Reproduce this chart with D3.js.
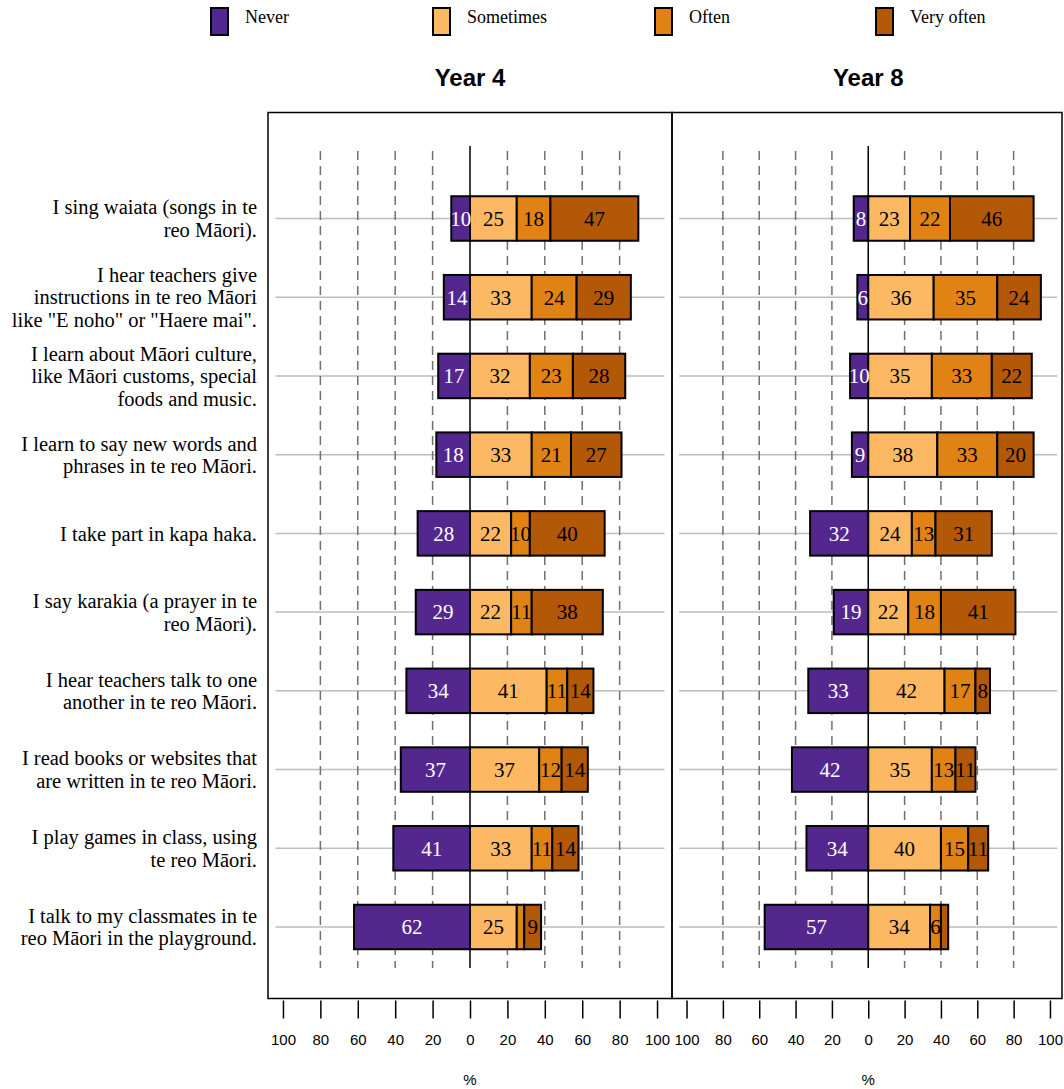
<!DOCTYPE html>
<html>
<head>
<meta charset="utf-8">
<script src="https://cdn.jsdelivr.net/npm/d3@7"></script>
<style>
  html, body { margin: 0; padding: 0; background: #fff; }
  svg { display: block; }
</style>
</head>
<body>
<svg id="chart" width="1064" height="1089"></svg>
<script>
// ---------------- DATA ----------------
const statements = [
  ["I sing waiata (songs in te", "reo Māori)."],
  ["I hear teachers give", "instructions in te reo Māori", "like \"E noho\" or \"Haere mai\"."],
  ["I learn about Māori culture,", "like Māori customs, special", "foods and music."],
  ["I learn to say new words and", "phrases in te reo Māori."],
  ["I take part in kapa haka."],
  ["I say karakia (a prayer in te", "reo Māori)."],
  ["I hear teachers talk to one", "another in te reo Māori."],
  ["I read books or websites that", "are written in te reo Māori."],
  ["I play games in class, using", "te reo Māori."],
  ["I talk to my classmates in te", "reo Māori in the playground."]
];
const responses = ["Never", "Sometimes", "Often", "Very often"];
const panels = ["Year 4", "Year 8"];

const year4Never     = [10, 14, 17, 18, 28, 29, 34, 37, 41, 62];
const year4Sometimes = [25, 33, 32, 33, 22, 22, 41, 37, 33, 25];
const year4Often     = [18, 24, 23, 21, 10, 11, 11, 12, 11, 4];
const year4VeryOften = [47, 29, 28, 27, 40, 38, 14, 14, 14, 9];

const year8Never     = [8, 6, 10, 9, 32, 19, 33, 42, 34, 57];
const year8Sometimes = [23, 36, 35, 38, 24, 22, 42, 35, 40, 34];
const year8Often     = [22, 35, 33, 33, 13, 18, 17, 13, 15, 6];
const year8VeryOften = [46, 24, 22, 20, 31, 41, 8, 11, 11, 4];

const tickValues = [-100, -80, -60, -40, -20, 0, 20, 40, 60, 80, 100];

// ---------------- STYLE ----------------
const colors = ["#54278f", "#fdb863", "#e08214", "#b35806"];
const textColors = ["#ffffff", "#000000", "#000000", "#000000"];
const serif = "'Liberation Serif', 'Times New Roman', serif";
const sans = "'Liberation Sans', Arial, sans-serif";

const svg = d3.select("#chart");

const panelData = [
  [year4Never, year4Sometimes, year4Often, year4VeryOften],
  [year8Never, year8Sometimes, year8Often, year8VeryOften]
];

const panelBoxes = [
  {x0: 268, x1: 672, range: [268, 672]},
  {x0: 672, x1: 1062, range: [672, 1064.5]}
];
const panelTop = 112.5, panelBottom = 998.5;

const y = d3.scalePoint().domain(d3.range(statements.length)).range([218.5, 927]);
const barH = 44.5;

// ---------------- LEGEND ----------------
const legendBoxX = [211, 433, 655, 876];
const legend = svg.append("g");
responses.forEach((r, i) => {
  legend.append("rect")
    .attr("x", legendBoxX[i]).attr("y", 8).attr("width", 17).attr("height", 27)
    .attr("fill", colors[i]).attr("stroke", "#000").attr("stroke-width", 2);
  legend.append("text")
    .attr("x", legendBoxX[i] + 34).attr("y", 23)
    .attr("font-family", serif).attr("font-size", 18)
    .text(r);
});

// ---------------- LEFT LABELS ----------------
const labelG = svg.append("g");
statements.forEach((lines, i) => {
  const n = lines.length, lh = 22.5;
  lines.forEach((ln, j) => {
    labelG.append("text")
      .attr("x", 257)
      .attr("y", y(i) + (j - (n - 1) / 2) * lh)
      .attr("dy", "0.35em")
      .attr("text-anchor", "end")
      .attr("font-family", serif).attr("font-size", 20.5)
      .text(ln);
  });
});

// ---------------- PANELS ----------------
panels.forEach((title, p) => {
  const box = panelBoxes[p];
  const x = d3.scaleLinear().domain([-108, 108]).range(box.range);
  const g = svg.append("g");

  g.append("text")
    .attr("x", x(0)).attr("y", 78).attr("dy", "0.35em")
    .attr("text-anchor", "middle")
    .attr("font-family", sans).attr("font-weight", "bold").attr("font-size", 24)
    .text(title);

  g.selectAll(".row").data(statements).join("line")
    .attr("x1", x(-104)).attr("x2", x(104))
    .attr("y1", (d, i) => y(i)).attr("y2", (d, i) => y(i))
    .attr("stroke", "#bdbdbd").attr("stroke-width", 1.5);

  g.selectAll(".grid").data(tickValues.filter(v => v !== 0 && Math.abs(v) !== 100)).join("line")
    .attr("x1", d => x(d)).attr("x2", d => x(d))
    .attr("y1", 151).attr("y2", 968)
    .attr("stroke", "#707070").attr("stroke-width", 1.5)
    .attr("stroke-dasharray", "9,6");

  g.append("line")
    .attr("x1", x(0)).attr("x2", x(0)).attr("y1", 146).attr("y2", 968)
    .attr("stroke", "#000").attr("stroke-width", 1.5);

  const d = panelData[p];
  statements.forEach((s, i) => {
    const vals = d.map(arr => arr[i]);
    const segs = [
      {k: 0, a: -vals[0], b: 0, v: vals[0]},
      {k: 1, a: 0, b: vals[1], v: vals[1]},
      {k: 2, a: vals[1], b: vals[1] + vals[2], v: vals[2]},
      {k: 3, a: vals[1] + vals[2], b: vals[1] + vals[2] + vals[3], v: vals[3]}
    ];
    segs.forEach(sg => {
      g.append("rect")
        .attr("x", x(sg.a)).attr("width", x(sg.b) - x(sg.a))
        .attr("y", y(i) - barH / 2).attr("height", barH)
        .attr("fill", colors[sg.k]).attr("stroke", "#000").attr("stroke-width", 2);
    });
    segs.forEach(sg => {
      if (sg.v < 5) return;
      g.append("text")
        .attr("x", (x(sg.a) + x(sg.b)) / 2).attr("y", y(i)).attr("dy", "0.35em")
        .attr("text-anchor", "middle")
        .attr("font-family", serif).attr("font-size", 21)
        .attr("fill", textColors[sg.k])
        .text(sg.v);
    });
  });

  g.append("rect")
    .attr("x", box.x0).attr("y", panelTop)
    .attr("width", box.x1 - box.x0).attr("height", panelBottom - panelTop)
    .attr("fill", "none").attr("stroke", "#000").attr("stroke-width", 1.5);

  const axis = d3.axisBottom(x).tickValues(tickValues)
    .tickFormat(v => Math.abs(v)).tickSize(18).tickPadding(16);
  const ag = svg.append("g").attr("transform", `translate(0,${panelBottom + 2})`).call(axis);
  ag.select(".domain").remove();
  ag.selectAll(".tick line").attr("stroke", "#000").attr("stroke-width", 1.5);
  ag.selectAll(".tick text").attr("font-family", sans).attr("font-size", 15).attr("fill", "#000");

  svg.append("text")
    .attr("x", x(0)).attr("y", 1080).attr("dy", "0.35em")
    .attr("text-anchor", "middle")
    .attr("font-family", sans).attr("font-size", 15)
    .text("%");
});
</script>
</body>
</html>
